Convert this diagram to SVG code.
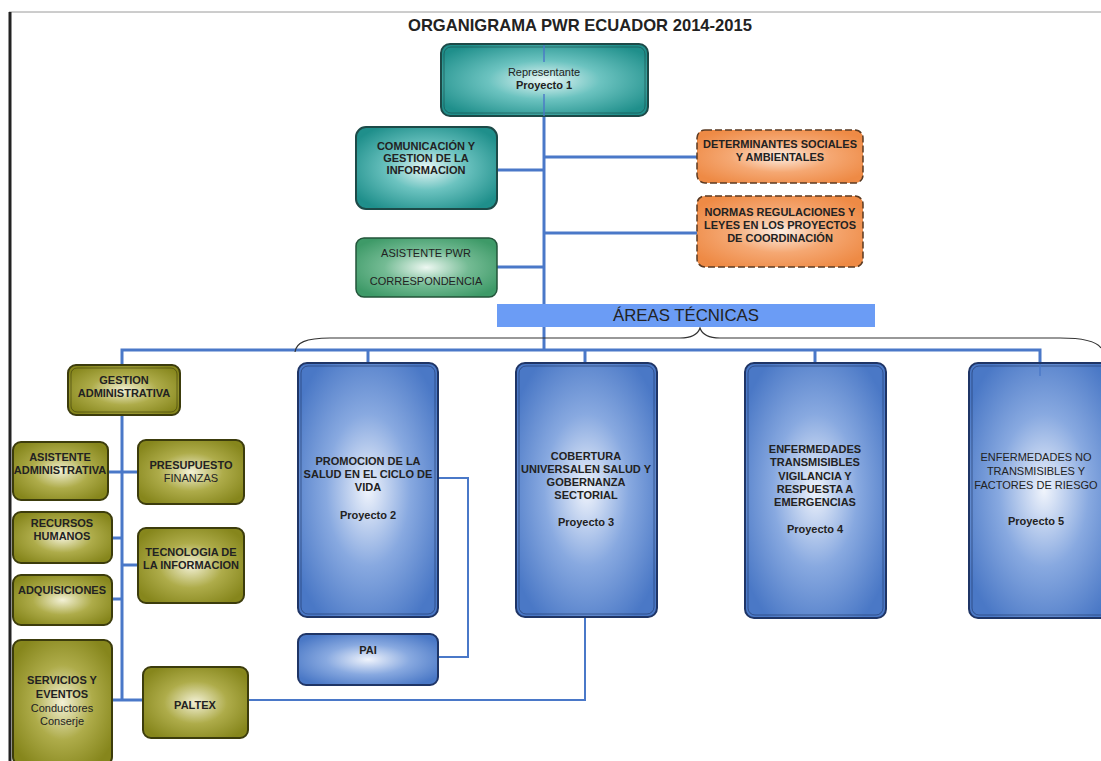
<svg xmlns="http://www.w3.org/2000/svg" width="1101" height="761" viewBox="0 0 1101 761">
  <defs>
    <radialGradient id="gTeal" cx="0.5" cy="0.5" r="0.6">
      <stop offset="0" stop-color="#eaf8f7"/>
      <stop offset="0.45" stop-color="#6cc3c0"/>
      <stop offset="1" stop-color="#1f8f8b"/>
    </radialGradient>
    <radialGradient id="gGreen" cx="0.5" cy="0.5" r="0.6">
      <stop offset="0" stop-color="#eef8f2"/>
      <stop offset="0.5" stop-color="#74bb94"/>
      <stop offset="1" stop-color="#3e9a68"/>
    </radialGradient>
    <radialGradient id="gOrange" cx="0.5" cy="0.5" r="0.6">
      <stop offset="0" stop-color="#fdeee3"/>
      <stop offset="0.5" stop-color="#f5a873"/>
      <stop offset="1" stop-color="#ee8a45"/>
    </radialGradient>
    <radialGradient id="gOlive" cx="0.5" cy="0.5" r="0.6">
      <stop offset="0" stop-color="#f3f1d6"/>
      <stop offset="0.5" stop-color="#aeac4a"/>
      <stop offset="1" stop-color="#86861c"/>
    </radialGradient>
    <radialGradient id="gBlue" cx="0.5" cy="0.5" r="0.6">
      <stop offset="0" stop-color="#f0f4fc"/>
      <stop offset="0.5" stop-color="#88a9e0"/>
      <stop offset="1" stop-color="#4a78c6"/>
    </radialGradient>
    <style>
      text { font-family: "Liberation Sans", Arial, sans-serif; fill: #222; text-anchor: middle; }
      .b { font-weight: bold; font-size: 11px; }
      .n { font-size: 11px; }
      .teal { fill: url(#gTeal); stroke: #1d4a48; stroke-width: 2; }
      .green { fill: url(#gGreen); stroke: #23543a; stroke-width: 1.5; }
      .orange { fill: url(#gOrange); stroke: #5a3a22; stroke-width: 1.5; stroke-dasharray: 7 3; }
      .olive { fill: url(#gOlive); stroke: #3c3c0c; stroke-width: 2; }
      .blue { fill: url(#gBlue); stroke: #1f3566; stroke-width: 2; }
      .inner { fill: none; stroke-width: 1; opacity: 0.6; }
      .conn { fill: none; stroke: #4a78c8; stroke-width: 3; }
      .thin { fill: none; stroke: #4a78c8; stroke-width: 2; }
    </style>
  </defs>

  <rect width="1101" height="761" fill="#ffffff"/>
  <!-- page frame -->
  <line x1="9" y1="12" x2="1101" y2="12" stroke="#9a9a9a" stroke-width="1"/>
  <line x1="10" y1="12" x2="10" y2="761" stroke="#222" stroke-width="3"/>

  <text x="580" y="31" font-size="17" font-weight="bold" textLength="344" lengthAdjust="spacingAndGlyphs">ORGANIGRAMA PWR ECUADOR 2014-2015</text>

  <!-- connectors -->
  <g id="connectors">
    <line class="conn" x1="544" y1="116" x2="544" y2="351"/>
    <line class="conn" x1="497" y1="170" x2="544" y2="170"/>
    <line class="conn" x1="497" y1="267" x2="544" y2="267"/>
    <line class="conn" x1="544" y1="157" x2="697" y2="157"/>
    <line class="conn" x1="544" y1="233" x2="697" y2="233"/>
    <polyline class="conn" points="122,365 122,350 1040,350 1040,375"/>
    <line class="conn" x1="368" y1="350" x2="368" y2="363"/>
    <line class="conn" x1="585" y1="350" x2="585" y2="363"/>
    <line class="conn" x1="815" y1="350" x2="815" y2="363"/>
    <line class="conn" x1="122" y1="415" x2="122" y2="701"/>
    <line class="conn" x1="108" y1="472" x2="138" y2="472"/>
    <line class="conn" x1="112" y1="538" x2="122" y2="538"/>
    <line class="conn" x1="122" y1="565" x2="138" y2="565"/>
    <line class="conn" x1="112" y1="599" x2="122" y2="599"/>
    <line class="conn" x1="112" y1="700" x2="143" y2="700"/>
    <polyline class="thin" points="437,478 468,478 468,657 438,657"/>
    <polyline class="thin" points="585,617 585,700 248,700"/>
  </g>

  <!-- brace over the technical areas -->
  <path d="M295,352 C296,343 305,338 330,338 L680,338 C692,338 698,334 700,328 C702,334 708,338 720,338 L1060,338 C1085,338 1097,342 1101,348" fill="none" stroke="#333" stroke-width="1.2"/>

  <g id="representante">
    <rect class="teal" x="441" y="44" width="207" height="72" rx="9"/>
    <rect class="inner" x="444" y="47" width="201" height="66" rx="7" stroke="#1d4a48"/>
    <line x1="544" y1="45" x2="544" y2="62" stroke="#4a78c8" stroke-width="2" opacity="0.7"/>
    <line x1="544" y1="94" x2="544" y2="116" stroke="#4a78c8" stroke-width="2" opacity="0.7"/>
    <text class="n" x="544" y="76">Representante</text>
    <text class="b" x="544" y="89">Proyecto 1</text>
  </g>

  <g id="comunicacion">
    <rect class="teal" x="356" y="127" width="141" height="82" rx="10" stroke-width="1.5"/>
    <text class="b" x="426" y="150">COMUNICACIÓN Y</text>
    <text class="b" x="426" y="162">GESTION DE LA</text>
    <text class="b" x="426" y="174">INFORMACION</text>
  </g>

  <g id="asistente-pwr">
    <rect class="green" x="356" y="238" width="141" height="59" rx="8"/>
    <text class="n" x="426" y="257">ASISTENTE PWR</text>
    <text class="n" x="426" y="285">CORRESPONDENCIA</text>
  </g>

  <g id="determinantes">
    <rect class="orange" x="697" y="130" width="166" height="53" rx="8"/>
    <text class="b" x="780" y="148">DETERMINANTES SOCIALES</text>
    <text class="b" x="780" y="161">Y AMBIENTALES</text>
  </g>

  <g id="normas">
    <rect class="orange" x="697" y="196" width="166" height="71" rx="8"/>
    <text class="b" x="780" y="216">NORMAS REGULACIONES Y</text>
    <text class="b" x="780" y="229">LEYES EN LOS PROYECTOS</text>
    <text class="b" x="780" y="242">DE COORDINACIÓN</text>
  </g>

  <g id="areas-tecnicas">
    <rect x="497" y="304" width="378" height="23" fill="#6b9cf5"/>
    <text x="686" y="321" font-size="17" textLength="146" lengthAdjust="spacingAndGlyphs">ÁREAS TÉCNICAS</text>
  </g>

  <g id="gestion-administrativa">
    <rect class="olive" x="68" y="365" width="112" height="50" rx="8"/>
    <rect class="inner" x="71" y="368" width="106" height="44" rx="6" stroke="#3c3c0c"/>
    <text class="b" x="124" y="384">GESTION</text>
    <text class="b" x="124" y="397">ADMINISTRATIVA</text>
  </g>

  <g id="asistente-administrativa">
    <rect class="olive" x="13" y="442" width="95" height="58" rx="8"/>
    <text class="b" x="60" y="461">ASISTENTE</text>
    <text class="b" x="60" y="474">ADMINISTRATIVA</text>
  </g>

  <g id="presupuesto">
    <rect class="olive" x="138" y="440" width="106" height="64" rx="8"/>
    <text class="b" x="191" y="469">PRESUPUESTO</text>
    <text class="n" x="191" y="482">FINANZAS</text>
  </g>

  <g id="recursos-humanos">
    <rect class="olive" x="13" y="512" width="99" height="51" rx="8"/>
    <text class="b" x="62" y="527">RECURSOS</text>
    <text class="b" x="62" y="540">HUMANOS</text>
  </g>

  <g id="tecnologia">
    <rect class="olive" x="138" y="528" width="106" height="75" rx="8"/>
    <text class="b" x="191" y="556">TECNOLOGIA DE</text>
    <text class="b" x="191" y="569">LA INFORMACION</text>
  </g>

  <g id="adquisiciones">
    <rect class="olive" x="13" y="575" width="99" height="50" rx="8"/>
    <text class="b" x="62" y="594">ADQUISICIONES</text>
  </g>

  <g id="servicios">
    <rect class="olive" x="13" y="640" width="99" height="125" rx="8"/>
    <text class="b" x="62" y="684">SERVICIOS Y</text>
    <text class="b" x="62" y="698">EVENTOS</text>
    <text class="n" x="62" y="712">Conductores</text>
    <text class="n" x="62" y="725">Conserje</text>
  </g>

  <g id="paltex">
    <rect class="olive" x="143" y="667" width="105" height="71" rx="8"/>
    <text class="b" x="195" y="709">PALTEX</text>
  </g>

  <g id="promocion">
    <rect class="blue" x="298" y="363" width="140" height="254" rx="9"/>
    <rect class="inner" x="301" y="366" width="134" height="248" rx="7" stroke="#1f3566"/>
    <text class="b" x="368" y="465">PROMOCION DE LA</text>
    <text class="b" x="368" y="478">SALUD EN EL CICLO DE</text>
    <text class="b" x="368" y="491">VIDA</text>
    <text class="b" x="368" y="519">Proyecto 2</text>
  </g>

  <g id="pai">
    <rect class="blue" x="298" y="634" width="140" height="51" rx="8"/>
    <text class="b" x="368" y="654">PAI</text>
  </g>

  <g id="cobertura">
    <rect class="blue" x="516" y="363" width="141" height="254" rx="9"/>
    <rect class="inner" x="519" y="366" width="135" height="248" rx="7" stroke="#1f3566"/>
    <text class="b" x="586" y="460">COBERTURA</text>
    <text class="b" x="586" y="473">UNIVERSALEN SALUD Y</text>
    <text class="b" x="586" y="486">GOBERNANZA</text>
    <text class="b" x="586" y="499">SECTORIAL</text>
    <text class="b" x="586" y="526">Proyecto 3</text>
  </g>

  <g id="transmisibles">
    <rect class="blue" x="745" y="363" width="141" height="255" rx="9"/>
    <rect class="inner" x="748" y="366" width="135" height="249" rx="7" stroke="#1f3566"/>
    <text class="b" x="815" y="453">ENFERMEDADES</text>
    <text class="b" x="815" y="466">TRANSMISIBLES</text>
    <text class="b" x="815" y="480">VIGILANCIA Y</text>
    <text class="b" x="815" y="493">RESPUESTA A</text>
    <text class="b" x="815" y="506">EMERGENCIAS</text>
    <text class="b" x="815" y="533">Proyecto 4</text>
  </g>

  <g id="no-transmisibles">
    <rect class="blue" x="969" y="363" width="150" height="255" rx="9"/>
    <rect class="inner" x="972" y="366" width="144" height="249" rx="7" stroke="#1f3566"/>
    <line x1="1040" y1="364" x2="1040" y2="376" stroke="#4a78c8" stroke-width="2" opacity="0.7"/>
    <text class="n" x="1036" y="461">ENFERMEDADES NO</text>
    <text class="n" x="1036" y="475">TRANSMISIBLES Y</text>
    <text class="n" x="1036" y="489">FACTORES DE RIESGO</text>
    <text class="b" x="1036" y="525">Proyecto 5</text>
  </g>
</svg>
